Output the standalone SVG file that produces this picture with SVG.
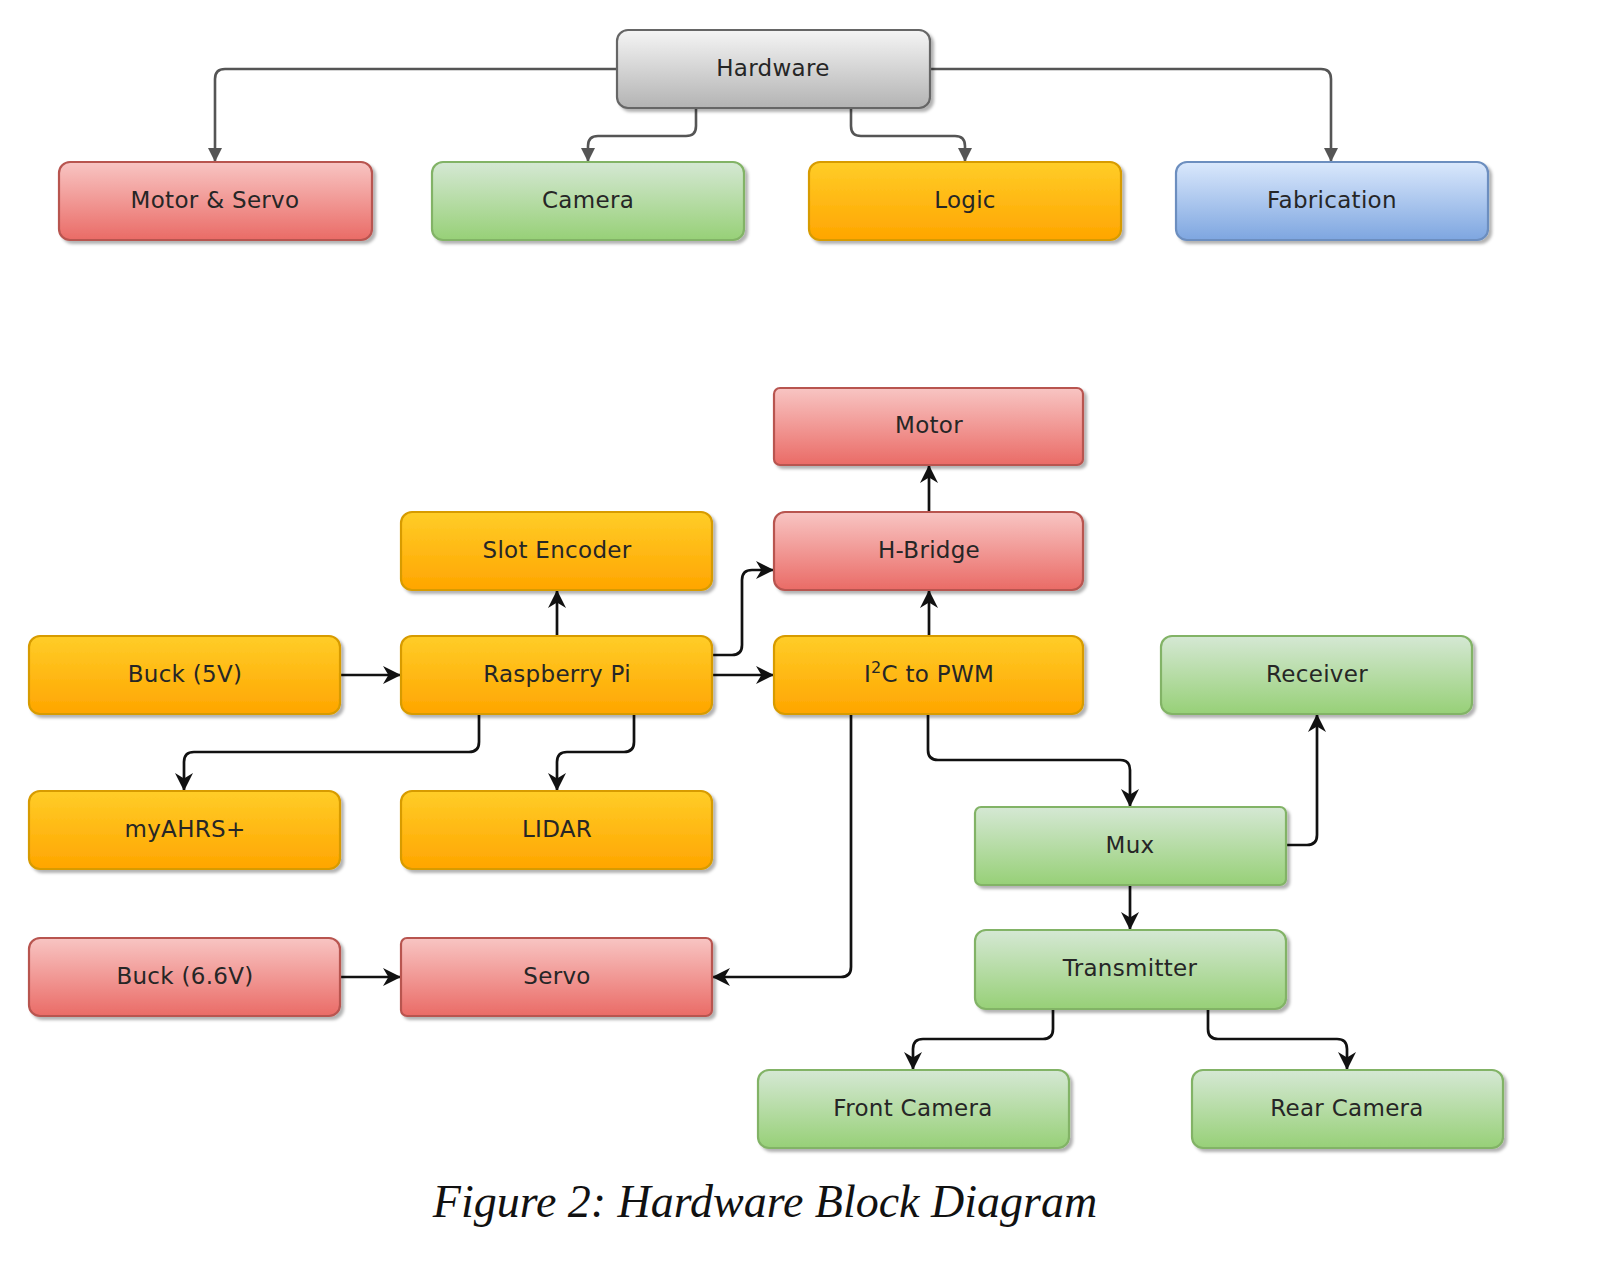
<svg xmlns="http://www.w3.org/2000/svg" width="1604" height="1262" viewBox="0 0 1604 1262">
<style>
.n rect{stroke-width:2.2}
.red rect{fill:url(#gRed);stroke:#b85450}
.grn rect{fill:url(#gGrn);stroke:#82b366}
.org rect{fill:url(#gOrg);stroke:#d79b00}
.blu rect{fill:url(#gBlu);stroke:#6c8ebf}
.gry rect{fill:url(#gGry);stroke:#666666}
.n text{font-family:"DejaVu Sans",Verdana,sans-serif;font-size:23px;fill:#262626;text-anchor:middle;letter-spacing:0.3px}
.ct path{fill:none;stroke:#555555;stroke-width:2.6;marker-end:url(#aTop)}
.cb path{fill:none;stroke:#111111;stroke-width:2.7;marker-end:url(#aBot)}
.cap{font-family:"Liberation Serif","Times New Roman",serif;font-style:italic;font-size:46px;fill:#111;text-anchor:middle}
</style>
<defs>
<linearGradient id="gRed" x1="0" y1="0" x2="0" y2="1"><stop offset="0" stop-color="#f8c5c3"/><stop offset="1" stop-color="#ea6b66"/></linearGradient>
<linearGradient id="gGrn" x1="0" y1="0" x2="0" y2="1"><stop offset="0" stop-color="#d5e8d4"/><stop offset="1" stop-color="#97d077"/></linearGradient>
<linearGradient id="gOrg" x1="0" y1="0" x2="0" y2="1"><stop offset="0" stop-color="#ffcd28"/><stop offset="1" stop-color="#ffa500"/></linearGradient>
<linearGradient id="gBlu" x1="0" y1="0" x2="0" y2="1"><stop offset="0" stop-color="#dae8fc"/><stop offset="1" stop-color="#7ea6e0"/></linearGradient>
<linearGradient id="gGry" x1="0" y1="0" x2="0" y2="1"><stop offset="0" stop-color="#f5f5f5"/><stop offset="1" stop-color="#b3b3b3"/></linearGradient>
<filter id="sh" x="-5%" y="-10%" width="115%" height="130%"><feDropShadow dx="3" dy="3" stdDeviation="1.5" flood-color="#000" flood-opacity="0.3"/></filter>
<marker id="aTop" viewBox="0 0 10 10" refX="10" refY="5" markerWidth="14" markerHeight="14" markerUnits="userSpaceOnUse" orient="auto"><path d="M0,0 L10,5 L0,10 z" fill="#555555"/></marker>
<marker id="aBot" viewBox="0 0 10 10" refX="10" refY="5" markerWidth="18" markerHeight="18" markerUnits="userSpaceOnUse" orient="auto"><path d="M0,0 L10,5 L0,10 L3,5 z" fill="#111111"/></marker>
</defs>
<rect width="1604" height="1262" fill="#ffffff"/>
<g id="connectors">
<g class="ct">
<path d="M617,69 H225 Q215,69 215,79 V162"/>
<path d="M930,69 H1321 Q1331,69 1331,79 V162"/>
<path d="M696,108 V126 Q696,136 686,136 H598 Q588,136 588,146 V162"/>
<path d="M851,108 V126 Q851,136 861,136 H955 Q965,136 965,146 V162"/>
</g>
<g class="cb">
<path d="M557,636 V590"/>
<path d="M712,655 H732 Q742,655 742,645 V580 Q742,570 752,570 H774"/>
<path d="M712,675 H774"/>
<path d="M340,675 H401"/>
<path d="M929,636 V590"/>
<path d="M929,512 V465"/>
<path d="M479,714 V742 Q479,752 469,752 H194 Q184,752 184,762 V791"/>
<path d="M634,714 V742 Q634,752 624,752 H567 Q557,752 557,762 V791"/>
<path d="M851,714 V967 Q851,977 841,977 H712"/>
<path d="M928,714 V750 Q928,760 938,760 H1120 Q1130,760 1130,770 V807"/>
<path d="M1286,845 H1307 Q1317,845 1317,835 V714"/>
<path d="M1130,885 V930"/>
<path d="M1053,1009 V1029 Q1053,1039 1043,1039 H923 Q913,1039 913,1049 V1070"/>
<path d="M1208,1009 V1029 Q1208,1039 1218,1039 H1337 Q1347,1039 1347,1049 V1070"/>
<path d="M340,977 H401"/>
</g>
</g>
<g id="hardware" class="n gry"><rect x="617" y="30" width="313" height="78" rx="11" filter="url(#sh)"/><text x="773" y="76">Hardware</text></g>
<g id="motor-servo" class="n red"><rect x="59" y="162" width="313" height="78" rx="11" filter="url(#sh)"/><text x="215" y="208">Motor &amp; Servo</text></g>
<g id="camera" class="n grn"><rect x="432" y="162" width="312" height="78" rx="11" filter="url(#sh)"/><text x="588" y="208">Camera</text></g>
<g id="logic" class="n org"><rect x="809" y="162" width="312" height="78" rx="11" filter="url(#sh)"/><text x="965" y="208">Logic</text></g>
<g id="fabrication" class="n blu"><rect x="1176" y="162" width="312" height="78" rx="11" filter="url(#sh)"/><text x="1332" y="208">Fabrication</text></g>

<g id="motor" class="n red"><rect x="774" y="388" width="309" height="77" rx="6" filter="url(#sh)"/><text x="929" y="433">Motor</text></g>
<g id="h-bridge" class="n red"><rect x="774" y="512" width="309" height="78" rx="11" filter="url(#sh)"/><text x="929" y="558">H-Bridge</text></g>
<g id="slot-encoder" class="n org"><rect x="401" y="512" width="311" height="78" rx="11" filter="url(#sh)"/><text x="557" y="558">Slot Encoder</text></g>
<g id="buck5" class="n org"><rect x="29" y="636" width="311" height="78" rx="11" filter="url(#sh)"/><text x="185" y="682">Buck (5V)</text></g>
<g id="raspberry-pi" class="n org"><rect x="401" y="636" width="311" height="78" rx="11" filter="url(#sh)"/><text x="557" y="682">Raspberry Pi</text></g>
<g id="i2c-pwm" class="n org"><rect x="774" y="636" width="309" height="78" rx="11" filter="url(#sh)"/><text x="929" y="682">I<tspan font-size="16" dy="-9">2</tspan><tspan dy="9">C to PWM</tspan></text></g>
<g id="receiver" class="n grn"><rect x="1161" y="636" width="311" height="78" rx="11" filter="url(#sh)"/><text x="1317" y="682">Receiver</text></g>
<g id="myahrs" class="n org"><rect x="29" y="791" width="311" height="78" rx="11" filter="url(#sh)"/><text x="185" y="837">myAHRS+</text></g>
<g id="lidar" class="n org"><rect x="401" y="791" width="311" height="78" rx="11" filter="url(#sh)"/><text x="557" y="837">LIDAR</text></g>
<g id="mux" class="n grn"><rect x="975" y="807" width="311" height="78" rx="6" filter="url(#sh)"/><text x="1130" y="853">Mux</text></g>
<g id="buck66" class="n red"><rect x="29" y="938" width="311" height="78" rx="11" filter="url(#sh)"/><text x="185" y="984">Buck (6.6V)</text></g>
<g id="servo" class="n red"><rect x="401" y="938" width="311" height="78" rx="6" filter="url(#sh)"/><text x="557" y="984">Servo</text></g>
<g id="transmitter" class="n grn"><rect x="975" y="930" width="311" height="79" rx="11" filter="url(#sh)"/><text x="1130" y="976">Transmitter</text></g>
<g id="front-camera" class="n grn"><rect x="758" y="1070" width="311" height="78" rx="11" filter="url(#sh)"/><text x="913" y="1116">Front Camera</text></g>
<g id="rear-camera" class="n grn"><rect x="1192" y="1070" width="311" height="78" rx="11" filter="url(#sh)"/><text x="1347" y="1116">Rear Camera</text></g>

<text class="cap" x="765" y="1217">Figure 2: Hardware Block Diagram</text>
</svg>
